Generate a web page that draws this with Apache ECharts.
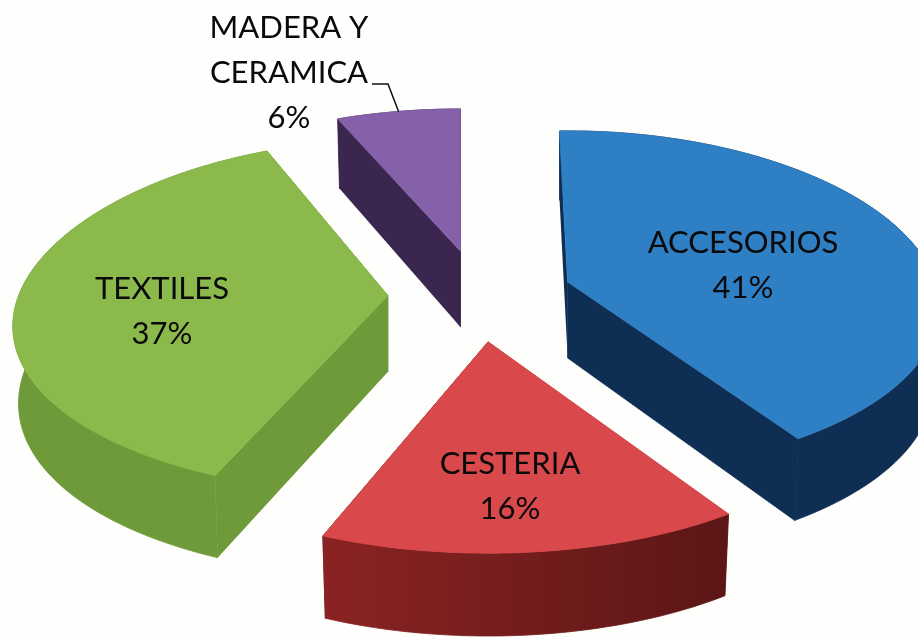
<!DOCTYPE html>
<html><head><meta charset="utf-8">
<script src="https://cdn.jsdelivr.net/npm/echarts@6/dist/echarts.min.js"></script>
<style>html,body{margin:0;padding:0;background:#fefefc}#c{width:918px;height:637px}</style>
</head><body><div id="c"></div>
<script>
// Data
const categories = ['ACCESORIOS', 'CESTERIA', 'TEXTILES', 'MADERA Y\nCERAMICA'];
const shares = [41, 16, 37, 6];

// Style / layout
const topColors  = ['#2E7FC3', '#D9494B', '#8BB94B', '#8561A9'];
const wallColors = ['#0F2E54', '#8A2323', '#6F9A3A', '#3B2650'];
const wallEnd    = ['#0F2E54', '#5C1616', '#6F9A3A', '#3B2650'];
const labelPos   = [[743, 265], [510, 486], [162, 311], [289, 73]];
const arcTrim    = [0, -1.5, 0, 1.5];
const ryScale    = [1.01, 1.11, 1.04, 0.95];
const rxScale    = [0.98, 1, 0.985, 1];
const perspX     = [0.15, 0.18, 0.18, 0.18];
const startDeg = -1.5, CX = 480, CY = 296, EXPLODE = 92;
const RX = 375, RY = 170, PERSP_Y = 0.12, DEPTH = 76, DPERSP = 0.09, TAPER = 0.015;
const FONT = 'Lato, "Open Sans", sans-serif';

const total = shares.reduce((a, b) => a + b, 0);

function project(i, ax, ay, deg) {
  const t = deg * Math.PI / 180;
  const u = Math.sin(t), v = -Math.cos(t);
  return {
    x: ax + RX * rxScale[i] * u * (1 + perspX[i] * v),
    y: ay + RY * ryScale[i] * v * (1 + PERSP_Y * v),
    d: DEPTH * (1 + DPERSP * v)
  };
}

function renderSlice(params, api) {
  const i = params.dataIndex;
  let before = 0;
  for (let k = 0; k < i; k++) before += shares[k];
  const a0 = startDeg + before / total * 360;
  const a1 = a0 + api.value(0) / total * 360;
  const mid = (a0 + a1) / 2 * Math.PI / 180;
  const ax = CX + EXPLODE * Math.sin(mid);
  const ay = CY - EXPLODE * 0.5 * Math.cos(mid);
  const aEnd = a1 + arcTrim[i];
  const rim = [];
  const n = Math.max(12, Math.round(aEnd - a0));
  for (let k = 0; k <= n; k++) rim.push(project(i, ax, ay, a0 + (aEnd - a0) * k / n));
  const apex = { x: ax, y: ay, d: DEPTH };
  const low = p => [p.x - TAPER * (p.x - ax), p.y + p.d];
  const up = p => [p.x, p.y];
  const poly = (pts, fill, edge) => ({ type: 'polygon', shape: { points: pts },
    style: { fill: fill, stroke: edge || null, lineWidth: edge ? 0.8 : 0 } });
  const grad = new echarts.graphic.LinearGradient(0, 0, 1, 0, [
    { offset: 0, color: wallColors[i] }, { offset: 1, color: wallEnd[i] }]);
  const first = rim[0], last = rim[rim.length - 1];
  const children = [
    poly([up(apex), up(first), low(first), low(apex)], wallColors[i]),
    poly([up(apex), up(last), low(last), low(apex)], wallEnd[i], wallEnd[i]),
    poly(rim.map(up).concat(rim.slice().reverse().map(low)), grad, grad),
    poly([up(apex)].concat(rim.map(up)), topColors[i], topColors[i])
  ];
  const lp = labelPos[i];
  const lines = categories[i].split('\n').concat([api.value(0) + '%']);
  lines.forEach((t, j) => {
    children.push({
      type: 'text', z2: 10,
      style: { text: t, x: lp[0], y: lp[1] - (lines.length - 1) * 22.5 + j * 45,
        textAlign: 'center', textVerticalAlign: 'middle', font: '31px ' + FONT, fill: '#0a0a0a' }
    });
  });
  if (i === 3) {
    const hit = project(i, ax, ay, a0 + (aEnd - a0) * 0.5);
    children.push({ type: 'polyline', shape: { points: [[372, 84], [388, 84], [hit.x, hit.y]] },
      style: { stroke: '#111', lineWidth: 1.5, fill: null }, z2: 10 });
  }
  return { type: 'group', children: children };
}

const chart = echarts.init(document.getElementById('c'), null, { renderer: 'canvas' });
chart.setOption({
  backgroundColor: '#fefefc',
  animation: false,
  series: [{
    type: 'custom', coordinateSystem: 'none',
    data: shares.map((v, i) => ({ name: categories[i], value: [v] })),
    renderItem: renderSlice
  }]
});
</script></body></html>
